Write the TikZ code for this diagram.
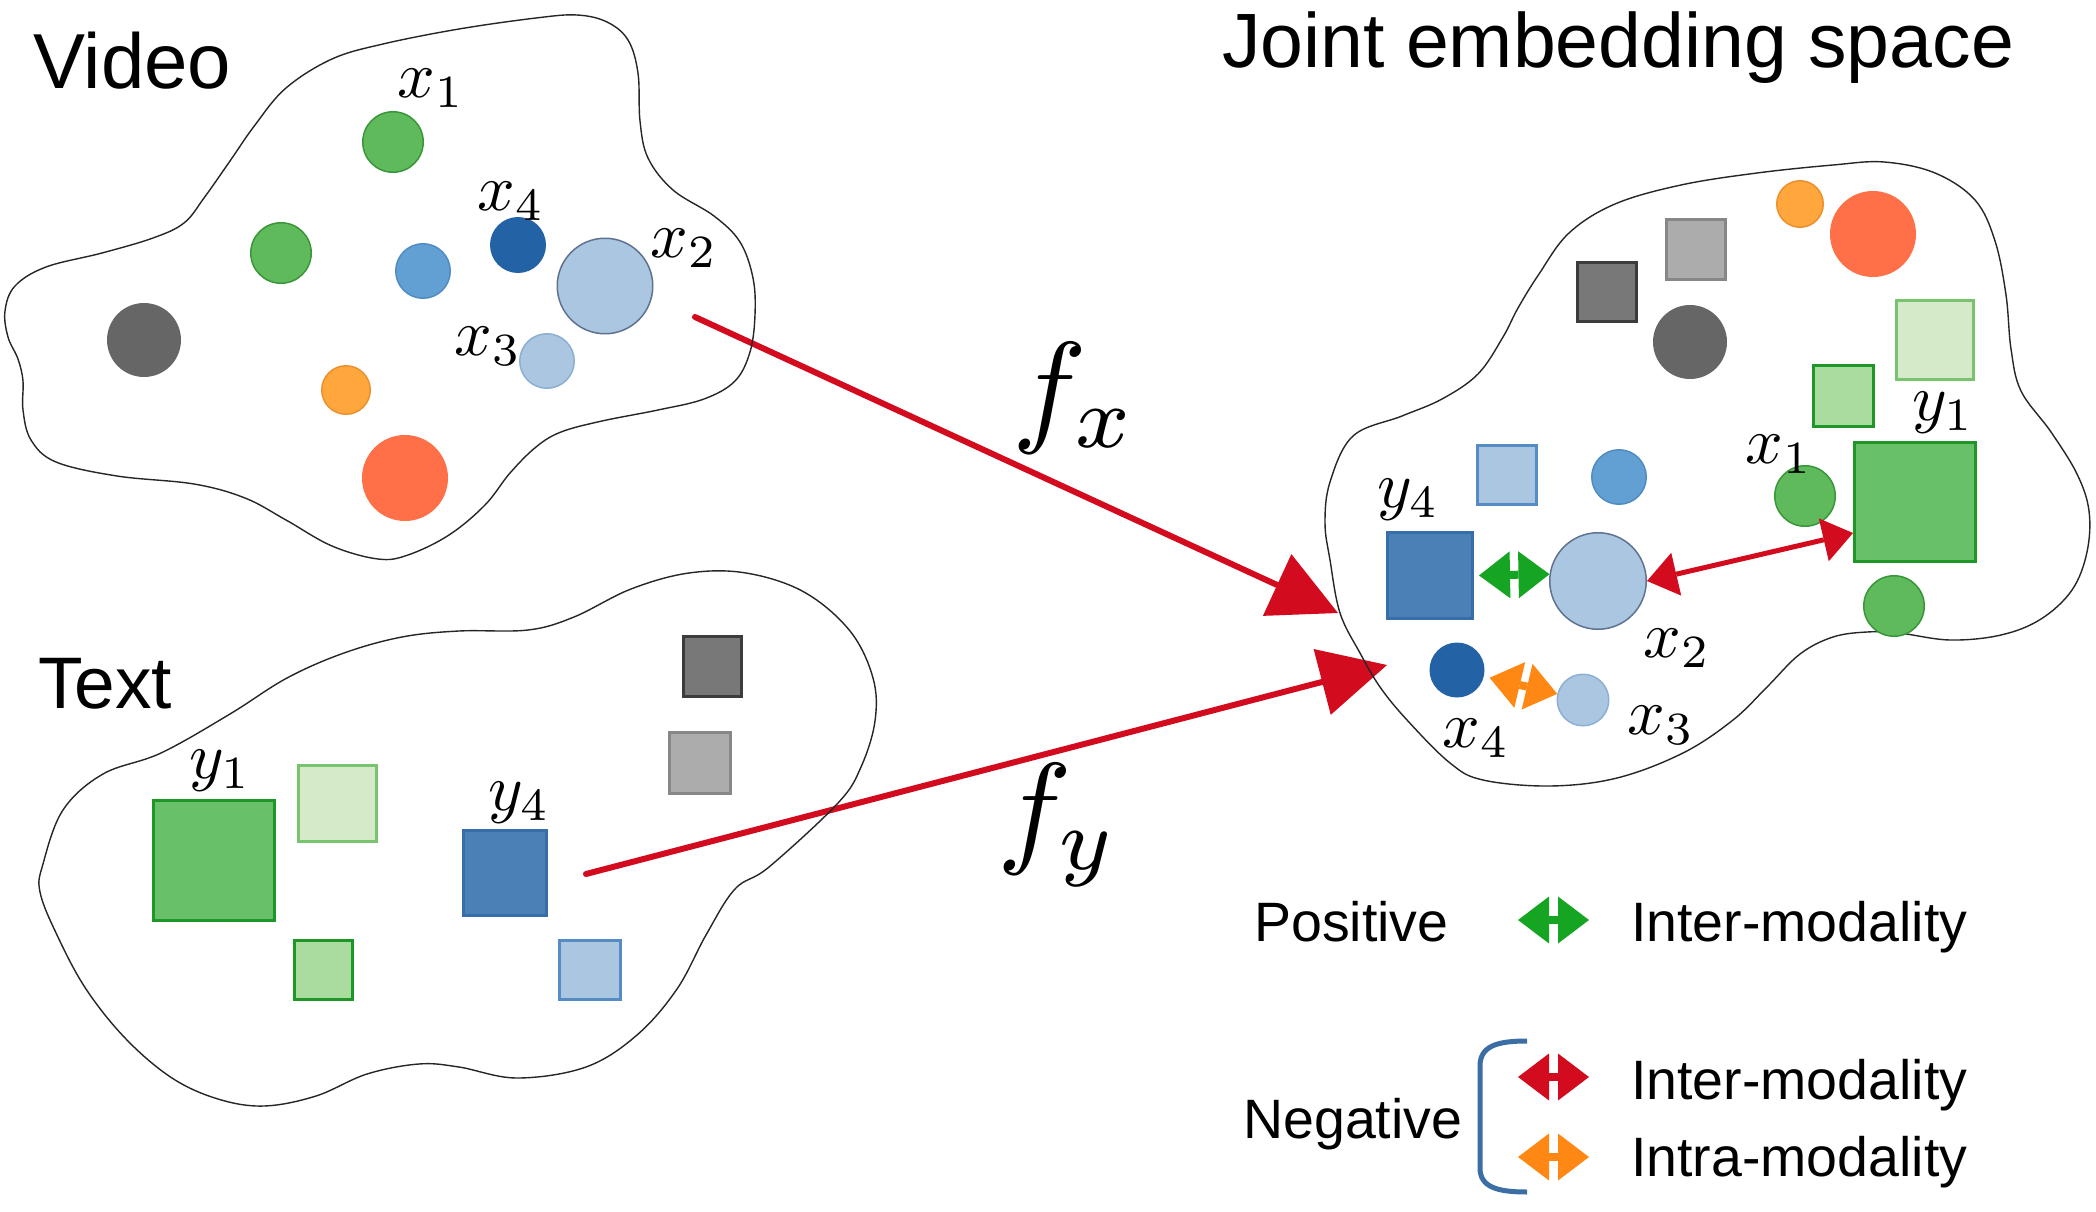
\documentclass[tikz,border=0pt]{standalone}
\usepackage{fontspec}
\newfontfamily\arialf{Liberation Sans}
\usetikzlibrary{arrows.meta}
\definecolor{cgreen}{RGB}{94,186,90}
\definecolor{cgreenD}{RGB}{58,150,58}
\definecolor{cblue}{RGB}{98,160,212}
\definecolor{cblueD}{RGB}{80,140,195}
\definecolor{cdblue}{RGB}{36,98,166}
\definecolor{clblue}{RGB}{170,198,225}
\definecolor{clblueD}{RGB}{95,115,145}
\definecolor{clblueB}{RGB}{140,175,210}
\definecolor{cgray}{RGB}{102,102,102}
\definecolor{corange}{RGB}{255,166,60}
\definecolor{corangeD}{RGB}{235,145,45}
\definecolor{cored}{RGB}{255,112,72}
\definecolor{sqgreen}{RGB}{104,192,104}
\definecolor{sqgreenD}{RGB}{30,150,40}
\definecolor{sqlgreen}{RGB}{212,234,200}
\definecolor{sqlgreenD}{RGB}{120,196,110}
\definecolor{sqmgreen}{RGB}{170,220,160}
\definecolor{sqblue}{RGB}{74,128,182}
\definecolor{sqblueD}{RGB}{55,110,170}
\definecolor{sqlblue}{RGB}{170,198,225}
\definecolor{sqlblueD}{RGB}{85,140,195}
\definecolor{sqdgray}{RGB}{120,120,120}
\definecolor{sqdgrayD}{RGB}{60,60,60}
\definecolor{sqlgray}{RGB}{172,172,172}
\definecolor{sqlgrayD}{RGB}{135,135,135}
\definecolor{cred}{RGB}{210,12,30}
\definecolor{cpgreen}{RGB}{22,165,34}
\definecolor{cporange}{RGB}{255,136,20}
\definecolor{cbracket}{RGB}{58,110,165}
\newcommand{\labsc}[1]{\scalebox{6.6}{$#1$}}
\newcommand{\funsc}[1]{\scalebox{12.5}{$#1$}}
\begin{document}
\begin{tikzpicture}[x=1pt,y=-1pt,
  circ/.style={circle, inner sep=0pt, line width=1.5pt},
  gcirc/.style={circ, draw=cgreenD, fill=cgreen},
  sq/.style={rectangle, inner sep=0pt, line width=3pt},
  blob/.style={draw=black!85, line width=1.4pt},
  lab/.style={inner sep=0pt},
  title/.style={inner sep=0pt, anchor=base west, font={\arialf\fontsize{77}{80}\selectfont}},
  legtext/.style={inner sep=0pt, anchor=base west, font={\arialf\fontsize{55.5}{60}\selectfont}},
  maparrow/.style={draw=cred, line width=6pt, line cap=round, -{Triangle[length=67pt,width=68pt,line width=0pt]}},
  redpair/.style={draw=cred, line width=5pt, {Triangle[length=30pt,width=44pt,line width=0pt]}-{Triangle[length=30pt,width=44pt,line width=0pt]}},
  pairtip/.style={line width=8pt, {Triangle[length=31pt,width=47pt,line width=0pt]}-{Triangle[length=31pt,width=47pt,line width=0pt]}},
  greenpair/.style={pairtip, draw=cpgreen},
  orangepair/.style={pairtip, draw=cporange},
  redlegpair/.style={pairtip, draw=cred},
  bracketline/.style={draw=cbracket, line width=5pt}
]
\path[use as bounding box, fill=white] (0,0) rectangle (2096,1212);

% mapping arrows
\coordinate (fxs) at (695,317);
\coordinate (fxe) at (1338,613);
\coordinate (fys) at (586,874);
\coordinate (fye) at (1387,665);
\draw[maparrow] (fxs) -- (fxe);
\draw[maparrow] (fys) -- (fye);

% blobs
\draw[blob] plot[smooth cycle, tension=0.6] coordinates {
(5,311) (15,286) (46,267) (102,253) (153,238) (184,223) (204,198) (230,161) (255,125) (286,88) (332,59) (383,44) (459,29) (536,18) (577,15) (607,22) (628,40) (638,73) (640,121) (648,158) (673,190) (714,216) (740,242) (753,278) (755,315) (750,352) (735,381) (704,399) (658,410) (602,421) (561,432) (536,447) (510,473) (485,505) (449,535) (408,555) (378,559) (332,546) (286,520) (245,498) (194,484) (117,476) (56,462) (31,440) (23,410) (23,381) (18,359) (8,337)};

\draw[blob] plot[smooth cycle, tension=0.6] coordinates {
(43,864) (63,810) (103,774) (161,753) (230,714) (287,678) (344,653) (402,637) (459,631) (528,630) (574,617) (631,589) (689,573) (746,573) (804,592) (850,631) (873,678) (875,721) (861,767) (838,803) (769,867) (735,889) (706,935) (677,989) (637,1035) (586,1067) (517,1078) (459,1067) (419,1064) (367,1074) (316,1096) (264,1106) (218,1099) (172,1078) (126,1039) (86,989) (57,935) (40,892)};

\draw[blob] plot[smooth cycle, tension=0.6] coordinates {
(1353,436) (1402,416) (1442,399) (1478,374) (1503,337) (1518,308) (1539,274) (1569,233) (1615,204) (1681,185) (1757,173) (1833,165) (1884,162) (1935,173) (1975,200) (1995,241) (2006,295) (2011,349) (2021,391) (2051,432) (2077,474) (2089,511) (2087,552) (2072,590) (2041,619) (2001,635) (1950,640) (1899,633) (1867,632) (1833,637) (1800,654) (1767,687) (1733,720) (1683,753) (1617,778) (1550,786) (1483,780) (1450,763) (1407,720) (1380,687) (1360,653) (1340,613) (1330,560) (1325,523) (1330,482)};

% video space
\node[gcirc, minimum size=60.5pt] (vx1) at (393,142) {};
\node[gcirc, minimum size=60.5pt] (vg2) at (281,253) {};
\node[circ, draw=cblueD, fill=cblue, minimum size=54.5pt] (vbm) at (423,271) {};
\node[circ, draw=cdblue, fill=cdblue, minimum size=54.5pt] (vx4) at (518,245) {};
\node[circ, draw=clblueD, fill=clblue, minimum size=95.5pt] (vx2) at (605,286) {};
\node[circ, draw=clblueB, fill=clblue, minimum size=54.5pt] (vx3) at (547,361) {};
\node[circ, draw=cgray, fill=cgray, minimum size=72.5pt] (vgy) at (144,340) {};
\node[circ, draw=corangeD, fill=corange, minimum size=48.5pt] (vos) at (346,390) {};
\node[circ, draw=cored, fill=cored, minimum size=84.5pt] (vor) at (405,478) {};

% text space
\node[sq, draw=sqgreenD, fill=sqgreen, minimum width=121pt, minimum height=120pt] (ty1) at (214,860) {};
\node[sq, draw=sqlgreenD, fill=sqlgreen, minimum width=78pt, minimum height=76pt] (tlg) at (337.5,803.5) {};
\node[sq, draw=sqgreenD, fill=sqmgreen, minimum width=58pt, minimum height=59pt] (tmg) at (323.5,970) {};
\node[sq, draw=sqblueD, fill=sqblue, minimum width=83pt, minimum height=85pt] (ty4) at (505,873) {};
\node[sq, draw=sqlblueD, fill=sqlblue, minimum width=61pt, minimum height=59pt] (tlb) at (590,970) {};
\node[sq, draw=sqdgrayD, fill=sqdgray, minimum width=58pt, minimum height=60pt] (tdg) at (712.5,666.5) {};
\node[sq, draw=sqlgrayD, fill=sqlgray, minimum width=61pt, minimum height=61pt] (tlgy) at (700,763) {};

% joint space
\node[circ, draw=corangeD, fill=corange, minimum size=46.5pt] (jos) at (1800,204) {};
\node[circ, draw=cored, fill=cored, minimum size=84.5pt] (jor) at (1873,234) {};
\node[sq, draw=sqlgrayD, fill=sqlgray, minimum width=59pt, minimum height=60pt] (jlgy) at (1696,249.5) {};
\node[sq, draw=sqdgrayD, fill=sqdgray, minimum width=59pt, minimum height=59pt] (jdg) at (1607,292) {};
\node[circ, draw=cgray, fill=cgray, minimum size=72.5pt] (jgy) at (1690,342) {};
\node[sq, draw=sqlgreenD, fill=sqlgreen, minimum width=77pt, minimum height=79pt] (jlg) at (1935,340) {};
\node[sq, draw=sqgreenD, fill=sqmgreen, minimum width=60pt, minimum height=61pt] (jmg) at (1843.5,396) {};
\node[gcirc, minimum size=60.5pt] (jx1) at (1805,496) {};
\node[sq, draw=sqgreenD, fill=sqgreen, minimum width=121pt, minimum height=119pt] (jy1) at (1915,502) {};
\node[gcirc, minimum size=60.5pt] (jg3) at (1894,606) {};
\node[sq, draw=sqlblueD, fill=sqlblue, minimum width=59pt, minimum height=59pt] (jlb) at (1507,475) {};
\node[circ, draw=cblueD, fill=cblue, minimum size=54.5pt] (jbm) at (1619,477) {};
\node[sq, draw=sqblueD, fill=sqblue, minimum width=85pt, minimum height=86pt] (jy4) at (1430,575.5) {};
\node[circ, draw=clblueD, fill=clblue, minimum size=96.5pt] (jx2) at (1598,581) {};
\node[circ, draw=cdblue, fill=cdblue, minimum size=53.5pt] (jx4) at (1457,670) {};
\node[circ, draw=clblueB, fill=clblue, minimum size=51.5pt] (jx3) at (1583,700) {};

% pair arrows in joint space
\draw[greenpair, shorten <=5pt] (jy4.east) -- (jx2.172);
\draw[orangepair, shorten <=6pt] (jx4) -- (jx3);
\draw[redpair] (jx2.east) -- ([yshift=-31pt]jy1.west);

% labels
\node[lab] (lvx1) at (431,88) {\labsc{x_1}};
\node[lab] (lvx4) at (511,201) {\labsc{x_4}};
\node[lab] (lvx2) at (684,248) {\labsc{x_2}};
\node[lab] (lvx3) at (488,346) {\labsc{x_3}};
\node[lab] (lty1) at (220,771) {\labsc{y_1}};
\node[lab] (lty4) at (519,803) {\labsc{y_4}};
\node[lab] (ljy1) at (1943,413) {\labsc{y_1}};
\node[lab] (ljx1) at (1779,454) {\labsc{x_1}};
\node[lab] (ljy4) at (1408,500) {\labsc{y_4}};
\node[lab] (ljx2) at (1677,648) {\labsc{x_2}};
\node[lab] (ljx3) at (1661,725) {\labsc{x_3}};
\node[lab] (ljx4) at (1476,738) {\labsc{x_4}};
\node[lab] (lfx) at (1075,398) {\funsc{f_x}};
\node[lab] (lfy) at (1058,825) {\funsc{f_y}};

% titles
\node[title, font={\arialf\fontsize{78}{80}\selectfont}] (tv) at (33,89) {Video};
\node[title, font={\arialf\fontsize{73}{76}\selectfont}] (tt) at (38,708) {Text};
\node[title] (tj) at (1222,68) {Joint embedding space};

% legend
\node[legtext] (lpos) at (1254,941) {Positive};
\node[legtext] (li1) at (1631,941) {Inter-modality};
\node[legtext] (lneg) at (1243,1138) {Negative};
\node[legtext] (li2) at (1631,1099) {Inter-modality};
\node[legtext] (li3) at (1631,1176) {Intra-modality};
\coordinate (g1a) at (1518,920); \coordinate (g1b) at (1589,920);
\coordinate (r1a) at (1518,1077); \coordinate (r1b) at (1589,1077);
\coordinate (o1a) at (1518,1157); \coordinate (o1b) at (1589,1157);
\draw[greenpair] (g1a) -- (g1b);
\draw[redlegpair] (r1a) -- (r1b);
\draw[orangepair] (o1a) -- (o1b);
\coordinate (bt) at (1527,1041);
\coordinate (bb) at (1527,1192);
\draw[bracketline] (bt) .. controls (1497,1041) and (1480,1046) .. (1480,1066) -- (1480,1168) .. controls (1480,1187) and (1497,1192) .. (bb);
\end{tikzpicture}
\end{document}
